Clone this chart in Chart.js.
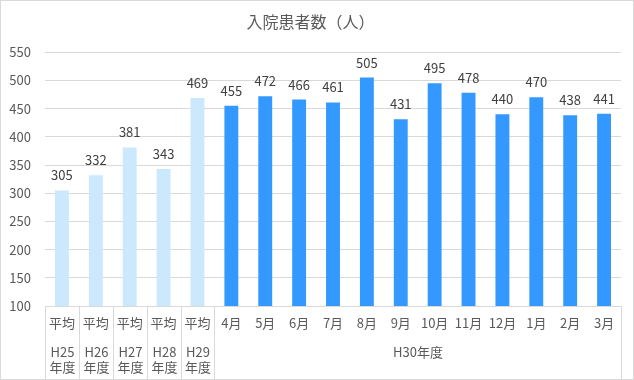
<!doctype html>
<html>
<head>
  <meta charset="utf-8">
  <script src="https://cdn.jsdelivr.net/npm/chart.js@4/dist/chart.umd.min.js"></script>
  <style>
    body { margin: 0; background: #fff; }
    #wrap { width: 634px; height: 380px; }
  </style>
</head>
<body>
  <div id="wrap"><canvas id="canvas" width="634" height="380"></canvas></div>
  <script>
    const title = '入院患者数（人）';
    const categories = ['平均', '平均', '平均', '平均', '平均',
      '4月', '5月', '6月', '7月', '8月', '9月', '10月', '11月', '12月', '1月', '2月', '3月'];
    const patients = [305, 332, 381, 343, 469,
      455, 472, 466, 461, 505, 431, 495, 478, 440, 470, 438, 441];
    const yearLabels = [['H25', '年度'], ['H26', '年度'], ['H27', '年度'], ['H28', '年度'], ['H29', '年度'], ['H30年度']];
    const yearSpans = [1, 1, 1, 1, 1, 12];

    const font = '"Noto Sans CJK JP", "Noto Sans", sans-serif';
    const lineColor = '#d9d9d9';
    const textColor = '#595959';

    // colours: yearly averages light, monthly values blue
    const barColors = patients.map((v, i) => i < 5 ? '#cce8fc' : '#3399ff');

    const frame = {
      id: 'frame',
      beforeDraw(chart) {
        const ctx = chart.ctx;
        ctx.save();
        ctx.fillStyle = '#fff';
        ctx.fillRect(0, 0, chart.width, chart.height);
        ctx.strokeStyle = lineColor;
        ctx.lineWidth = 1;
        ctx.strokeRect(0.5, 0.5, chart.width - 1, chart.height - 1);
        ctx.restore();
      }
    };

    const valueLabels = {
      id: 'valueLabels',
      afterDatasetsDraw(chart) {
        const ctx = chart.ctx;
        const meta = chart.getDatasetMeta(0);
        ctx.save();
        ctx.font = '13px ' + font;
        ctx.fillStyle = '#404040';
        ctx.textAlign = 'center';
        ctx.textBaseline = 'middle';
        meta.data.forEach((bar, i) => {
          ctx.fillText(String(patients[i]), bar.x, bar.y - 15);
        });
        ctx.restore();
      }
    };

    const yearAxis = {
      id: 'yearAxis',
      afterDraw(chart) {
        const ctx = chart.ctx;
        const x = chart.scales.x;
        const top = chart.chartArea.bottom;
        const bottom = chart.height - 1;
        const half = (x.getPixelForValue(1) - x.getPixelForValue(0)) / 2;
        ctx.save();
        ctx.strokeStyle = lineColor;
        ctx.lineWidth = 1;
        ctx.font = '13px ' + font;
        ctx.fillStyle = textColor;
        ctx.textAlign = 'center';
        ctx.textBaseline = 'middle';
        let start = 0;
        const edge = (i) => Math.round(x.getPixelForValue(i) - half) + 0.5;
        ctx.beginPath();
        ctx.moveTo(edge(0), top);
        ctx.lineTo(edge(0), bottom);
        yearSpans.forEach((span, g) => {
          const end = start + span;
          const xr = edge(end);
          if (g < yearSpans.length - 1 || true) {
            ctx.moveTo(xr, top);
            ctx.lineTo(xr, bottom);
          }
          const cx = (edge(start) + xr) / 2;
          yearLabels[g].forEach((t, k) => {
            ctx.fillText(t, cx, top + 46 + k * 15);
          });
          start = end;
        });
        ctx.stroke();
        ctx.restore();
      }
    };

    new Chart(document.getElementById('canvas').getContext('2d'), {
      type: 'bar',
      data: {
        labels: categories,
        datasets: [{
          data: patients,
          backgroundColor: barColors,
          barPercentage: 0.41,
          categoryPercentage: 1
        }]
      },
      options: {
        responsive: false,
        animation: false,
        devicePixelRatio: 1,
        layout: { padding: { left: 0, right: 13, top: 0, bottom: 1 } },
        plugins: {
          legend: { display: false },
          tooltip: { enabled: false },
          title: {
            display: true,
            text: title,
            color: textColor,
            font: { family: font, size: 16, weight: 'normal' },
            padding: { top: 12, bottom: 21 }
          }
        },
        scales: {
          x: {
            offset: true,
            grid: { display: false, drawTicks: false },
            border: { display: true, color: lineColor },
            ticks: {
              color: textColor,
              font: { family: font, size: 13 },
              padding: 9,
              autoSkip: false,
              maxRotation: 0
            },
            afterFit(scale) { scale.height = 73; }
          },
          y: {
            min: 100,
            max: 550,
            ticks: {
              stepSize: 50,
              color: textColor,
              font: { family: font, size: 13 },
              padding: 14
            },
            grid: { color: lineColor, drawTicks: false },
            border: { display: false },
            afterFit(scale) { scale.width = 45; }
          }
        }
      },
      plugins: [frame, valueLabels, yearAxis]
    });
  </script>
</body>
</html>
